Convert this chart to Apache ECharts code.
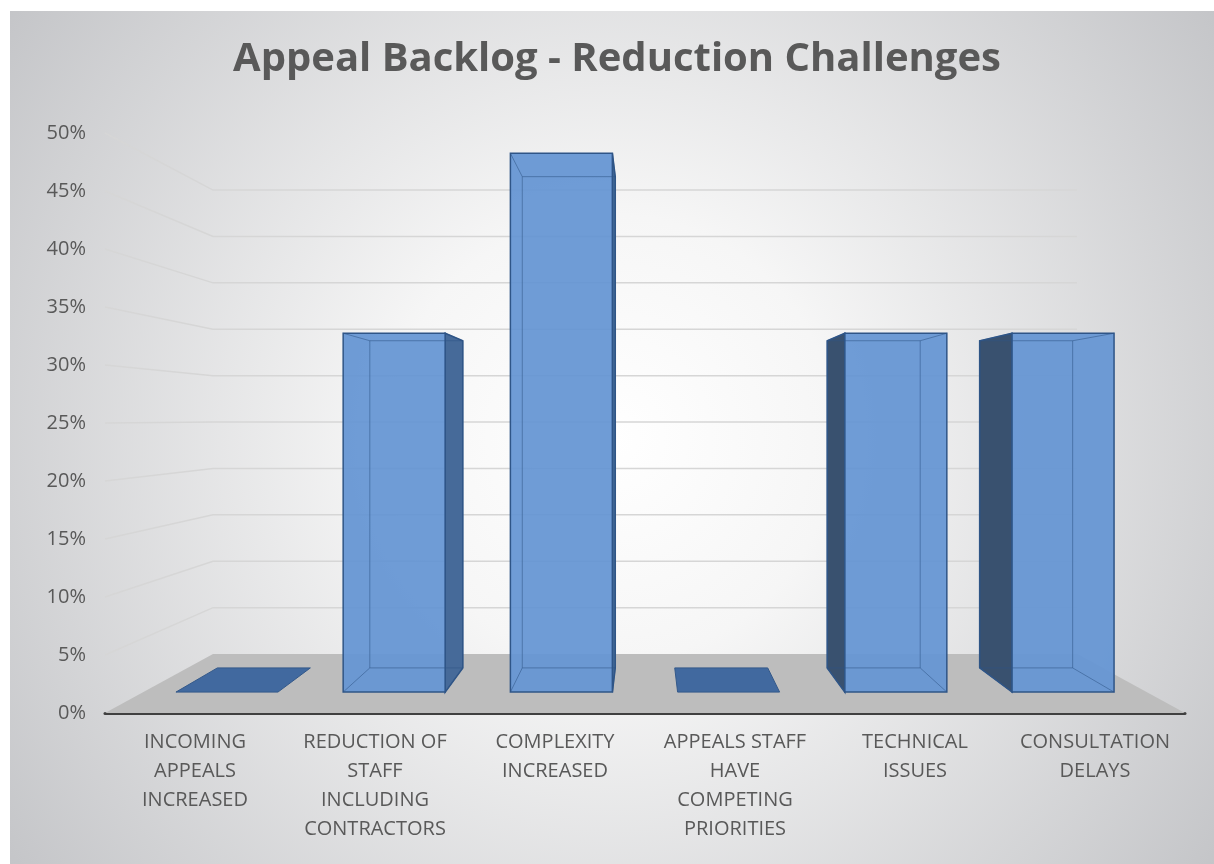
<!DOCTYPE html>
<html>
<head>
<meta charset="utf-8">
<script src="https://cdn.jsdelivr.net/npm/echarts@6/dist/echarts.min.js"></script>
<style>
  html, body { margin: 0; padding: 0; background: #fff; }
  #chart { width: 1214px; height: 864px; }
</style>
</head>
<body>
<div id="chart"></div>
<script>
const categories = [
  'INCOMING\nAPPEALS\nINCREASED',
  'REDUCTION OF\nSTAFF\nINCLUDING\nCONTRACTORS',
  'COMPLEXITY\nINCREASED',
  'APPEALS STAFF\nHAVE\nCOMPETING\nPRIORITIES',
  'TECHNICAL\nISSUES',
  'CONSULTATION\nDELAYS'
];
const shares = [0, 0.333, 0.5, 0, 0.333, 0.333];
const yTicks = [0, 0.05, 0.1, 0.15, 0.2, 0.25, 0.3, 0.35, 0.4, 0.45, 0.5];

// fake 3d: everything is drawn on the front plane and pulled toward a vanishing point
const EYE_LEVEL = 0.254;
const WALL_DEPTH = 0.8;
const BAR_FRONT = 0.929;
const BAR_BACK = 0.847;
const BAR_RATIO = 0.61;

function vanish(api) {
  const a = api.coord([2, EYE_LEVEL]);
  const b = api.coord([3, EYE_LEVEL]);
  return [(a[0] + b[0]) / 2, a[1]];
}
function proj(p, vp, s) {
  return [vp[0] + s * (p[0] - vp[0]), vp[1] + s * (p[1] - vp[1])];
}

function renderWall(params, api) {
  const cs = params.coordSys;
  const vp = vanish(api);
  const t = api.value(1);
  const y = api.coord([0, t])[1];
  const fl = [cs.x, y], fr = [cs.x + cs.width, y];
  const bl = proj(fl, vp, WALL_DEPTH), br = proj(fr, vp, WALL_DEPTH);
  if (t === 0) {
    return { type: 'polygon', shape: { points: [fl, fr, br, bl] }, style: { fill: '#bdbdbd' } };
  }
  return {
    type: 'polyline',
    shape: { points: [fl, bl, br] },
    style: { fill: null, stroke: '#d6d6d6', lineWidth: 1.5 }
  };
}

function renderBar(params, api) {
  const idx = api.value(0), v = api.value(1);
  const vp = vanish(api);
  const base = api.coord([idx, 0]);
  const top = api.coord([idx, v]);
  const half = api.size([1, 0])[0] * BAR_RATIO / 2;
  const face = s => ({
    tl: proj([base[0] - half, top[1]], vp, s),
    tr: proj([base[0] + half, top[1]], vp, s),
    br: proj([base[0] + half, base[1]], vp, s),
    bl: proj([base[0] - half, base[1]], vp, s)
  });
  const f = face(BAR_FRONT), b = face(BAR_BACK);
  const edge = '#2f5587';
  if (v === 0) {
    return {
      type: 'polygon',
      shape: { points: [f.bl, f.br, b.br, b.bl] },
      style: { fill: '#41699f', stroke: '#34598a', lineWidth: 1 }
    };
  }
  const leftOfEye = base[0] < vp[0];
  const side = leftOfEye ? [f.tr, b.tr, b.br, f.br] : [f.tl, b.tl, b.bl, f.bl];
  const thin = { stroke: 'rgba(47,85,135,0.55)', lineWidth: 1, fill: null };
  const line = (p, q) => ({ type: 'line', shape: { x1: p[0], y1: p[1], x2: q[0], y2: q[1] }, style: thin });
  return {
    type: 'group',
    children: [
      { type: 'polygon', shape: { points: side },
        style: { fill: leftOfEye ? '#466a99' : '#39516f', stroke: edge, lineWidth: 1.5 } },
      { type: 'polygon', shape: { points: [f.tl, f.tr, f.br, f.bl] },
        style: { fill: '#6495d3', opacity: 0.93 } },
      { type: 'polygon', shape: { points: [b.tl, b.tr, b.br, b.bl] }, style: thin },
      line(f.tl, b.tl), line(f.tr, b.tr), line(f.br, b.br), line(f.bl, b.bl),
      { type: 'polygon', shape: { points: [f.tl, f.tr, f.br, f.bl] },
        style: { fill: null, stroke: edge, lineWidth: 1.5 } }
    ]
  };
}

const chart = echarts.init(document.getElementById('chart'));
chart.setOption({
  animation: false,
  backgroundColor: '#ffffff',
  graphic: [{
    type: 'rect',
    z: -10,
    silent: true,
    shape: { x: 10, y: 11, width: 1204, height: 853 },
    style: {
      fill: {
        type: 'radial', x: 0.5, y: 0.5, r: 0.87,
        colorStops: [
          { offset: 0, color: '#ffffff' },
          { offset: 0.3, color: '#f6f6f6' },
          { offset: 1, color: '#c4c5c8' }
        ]
      }
    }
  }],
  title: {
    text: 'Appeal Backlog - Reduction Challenges',
    left: 617,
    top: 40,
    padding: 0,
    textAlign: 'center',
    textStyle: { fontFamily: 'Open Sans', fontWeight: 'bold', fontSize: 40, color: '#595959' }
  },
  grid: { left: 105, right: 29, top: 133, bottom: 151 },
  xAxis: {
    type: 'category',
    data: categories,
    axisLine: { lineStyle: { color: '#404040', width: 3 } },
    axisTick: { show: false },
    axisLabel: {
      interval: 0, margin: 15, color: '#595959',
      fontFamily: 'Open Sans', fontSize: 20, lineHeight: 29
    }
  },
  yAxis: {
    type: 'value',
    min: 0, max: 0.5, interval: 0.05,
    axisLine: { show: false },
    axisTick: { show: false },
    splitLine: { show: false },
    axisLabel: {
      margin: 19, color: '#595959', fontFamily: 'Open Sans', fontSize: 20,
      formatter: v => Math.round(v * 100) + '%'
    }
  },
  series: [
    {
      type: 'custom',
      silent: true,
      clip: false,
      z: 1,
      renderItem: renderWall,
      encode: { x: 0, y: 1 },
      data: yTicks.map(t => [0, t])
    },
    {
      type: 'custom',
      silent: true,
      clip: false,
      z: 3,
      renderItem: renderBar,
      encode: { x: 0, y: 1 },
      data: shares.map((v, i) => [i, v])
    }
  ]
});
</script>
</body>
</html>
